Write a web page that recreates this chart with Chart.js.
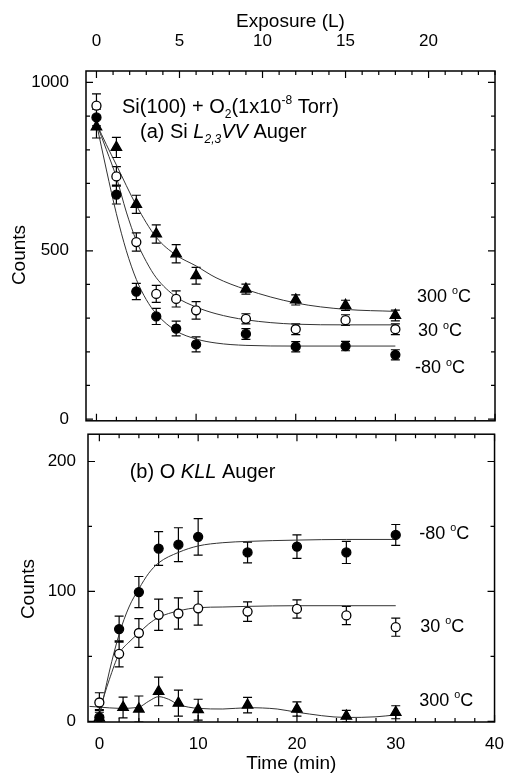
<!DOCTYPE html>
<html>
<head>
<meta charset="utf-8">
<script src="https://cdn.jsdelivr.net/npm/chart.js@4.4.0/dist/chart.umd.min.js"></script>
<style>
    body { margin: 0; background: #fff; }
    #wrap { position: relative; width: 508px; height: 775px; }
    canvas { position: absolute; left: 0; }
</style>
</head>
<body>
<div id="wrap">
    <canvas id="topChart" width="508" height="440" style="top:0"></canvas>
    <canvas id="bottomChart" width="508" height="355" style="top:420px"></canvas>
</div>
<script>
// (a) Si L2,3VV Auger - counts vs time (min)
const timeA = [0, 2, 4, 6, 8, 10, 15, 20, 25, 30];
const siM80 = [896, 667, 379, 305, 269, 222, 253, 215, 217, 191];
const siM80Err = [25, 28, 24, 24, 22, 22, 16, 15, 14, 15];
const si30 = [931, 721, 526, 372, 357, 323, 298, 267, 294, 267];
const si30Err = [35, 29, 27, 25, 24, 26, 15, 16, 16, 16];
const si300 = [868, 807, 638, 550, 491, 426, 386, 354, 338, 308];
const si300Err = [33, 30, 27, 27, 27, 25, 15, 15, 15, 16];

// fitted curves
const fitSiM80T = [0, 1, 2, 3, 4, 5, 6, 8, 10, 12, 15, 20, 25, 30];
const fitSiM80 = [878, 740, 610, 500, 415, 355, 313, 262, 238, 226, 219, 217, 217, 217];
const fitSi30T = [0, 1, 2, 3, 4, 5, 6, 8, 10, 12, 15, 20, 25, 30];
const fitSi30 = [878, 800, 718, 615, 530, 468, 420, 363, 333, 313, 295, 282, 280, 280];
const fitSi300T = [0, 1, 2, 4, 6, 8, 10, 12, 15, 20, 25, 30];
const fitSi300 = [878, 815, 755, 635, 540, 487, 455, 420, 385, 345, 326, 320];

// (b) O KLL Auger
const timeB = [0, 2, 4, 6, 8, 10, 15, 20, 25, 30];
const oM80 = [3, 71, 99.5, 133, 136, 142, 130, 134.5, 130, 143.5];
const oM80Err = [6, 10, 12, 13, 13, 14, 8, 9, 8.5, 8];
const o30 = [14.5, 52, 68, 82, 83, 87, 84.5, 86.5, 81.5, 72.5];
const o30Err = [7.5, 10, 11, 12, 12, 13, 7.5, 7, 7, 7];
const timeB300 = [0, 2.4, 4, 6, 8, 10, 15, 20, 25, 30];
const o300 = [2.5, 10.7, 9.5, 23, 14, 9, 12.5, 9.5, 4, 7];
const o300Err = [6, 8, 10, 11, 10, 8, 6, 5.5, 4.5, 5];

const fitOM80T = [0, 1, 2, 3, 4, 5, 6, 8, 10, 12.5, 15, 20, 25, 30];
const fitOM80 = [3, 38, 67, 88, 102, 114, 122, 130, 135, 137.5, 138.5, 139.5, 140, 140];
const fitO30T = [0, 1, 2, 3, 4, 5, 6, 8, 10, 12.5, 15, 20, 25, 30];
const fitO30 = [8, 32, 52, 61, 68, 75, 80, 85, 87.5, 88, 88.5, 89, 89, 89];
const fitO300T = [-1, 0, 2, 4, 5, 6, 7, 8, 10, 12.5, 15, 18, 20, 25, 28, 30];
const fitO300 = [11.5, 11, 10, 11, 15.5, 19, 17, 13, 10, 9.5, 10.5, 9.5, 7, 3, 3.5, 5];

// tick labels
const countTicksA = [0, 500, 1000];
const countTicksB = [0, 100, 200];
const timeTicks = [0, 10, 20, 30, 40];
const exposureTicks = [0, 5, 10, 15, 20];
const lPerMin = 0.6; // 1x10^-8 Torr for 60 s = 0.6 L

const FONT = '"Liberation Sans", Arial, Helvetica, sans-serif';
const tickFont = { family: FONT, size: 17 };
const titleFont = { family: FONT, size: 19 };

const pts = (xs, ys) => xs.map((x, i) => ({ x: x, y: ys[i] }));
const deg = t => [[t + ' ', ''], ['o', 'sup'], ['C', '']];

function pointSet(xs, ys, errs, style, fillColor, radius) {
    return {
        data: pts(xs, ys),
        errors: errs,
        pointStyle: style,
        pointRadius: radius,
        pointBackgroundColor: fillColor,
        pointBorderColor: '#000',
        pointBorderWidth: 1.3,
        showLine: false
    };
}

function fitSet(xs, ys) {
    return {
        data: pts(xs, ys),
        showLine: true,
        pointRadius: 0,
        borderColor: '#333',
        borderWidth: 1,
        cubicInterpolationMode: 'monotone',
        fill: false
    };
}

// draw text runs with italic / sub / superscript parts
function drawRich(ctx, x, y, parts, size) {
    let cx = x;
    const base = y + size * 0.36;
    parts.forEach(([txt, kind]) => {
        const small = kind === 'sub' || kind === 'sup' || kind === 'isub';
        const italic = kind === 'i' || kind === 'isub';
        ctx.font = (italic ? 'italic ' : '') + (small ? size * 0.6 : size) + 'px ' + FONT;
        let dy = 0;
        if (kind === 'sub' || kind === 'isub') dy = size * 0.25;
        if (kind === 'sup') dy = -size * 0.42;
        ctx.fillText(txt, cx, base + dy);
        cx += ctx.measureText(txt).width;
    });
}

const frame = {
    id: 'frame',
    afterDraw(chart) {
        const { ctx, chartArea: a } = chart;
        ctx.save();
        ctx.strokeStyle = '#000';
        ctx.lineWidth = 1.5;
        ctx.strokeRect(a.left, a.top, a.right - a.left, a.bottom - a.top);
        ctx.restore();
    }
};

const inTicks = {
    id: 'inTicks',
    afterDraw(chart, args, opts) {
        const { ctx, chartArea: a } = chart;
        ctx.save();
        ctx.strokeStyle = '#000';
        ctx.lineWidth = 1.2;
        ctx.beginPath();
        opts.list.forEach(t => {
            const s = chart.scales[t.scale];
            for (let v = t.from; v <= t.to + 1e-9; v += t.step) {
                const p = s.getPixelForValue(v);
                const r = v / t.major;
                const len = Math.abs(r - Math.round(r)) < 1e-6 ? 7 : 4;
                if (t.side === 'top' || t.side === 'bottom') {
                    if (p < a.left - 0.5 || p > a.right + 0.5) continue;
                    const y0 = t.side === 'top' ? a.top : a.bottom;
                    ctx.moveTo(p, y0);
                    ctx.lineTo(p, t.side === 'top' ? y0 + len : y0 - len);
                } else {
                    if (p < a.top - 0.5 || p > a.bottom + 0.5) continue;
                    const x0 = t.side === 'left' ? a.left : a.right;
                    ctx.moveTo(x0, p);
                    ctx.lineTo(t.side === 'left' ? x0 + len : x0 - len, p);
                }
            }
        });
        ctx.stroke();
        ctx.restore();
    }
};

const errorBars = {
    id: 'errorBars',
    beforeDatasetsDraw(chart) {
        const { ctx, chartArea: a, scales } = chart;
        ctx.save();
        ctx.beginPath();
        ctx.rect(a.left, a.top, a.right - a.left, a.bottom - a.top);
        ctx.clip();
        ctx.strokeStyle = '#000';
        ctx.lineWidth = 1.2;
        ctx.beginPath();
        chart.data.datasets.forEach(ds => {
            if (!ds.errors) return;
            ds.data.forEach((pt, j) => {
                const px = scales.x.getPixelForValue(pt.x);
                const hi = scales.y.getPixelForValue(pt.y + ds.errors[j]);
                const lo = scales.y.getPixelForValue(pt.y - ds.errors[j]);
                ctx.moveTo(px, hi); ctx.lineTo(px, lo);
                ctx.moveTo(px - 4.5, hi); ctx.lineTo(px + 4.5, hi);
                ctx.moveTo(px - 4.5, lo); ctx.lineTo(px + 4.5, lo);
            });
        });
        ctx.stroke();
        ctx.restore();
    }
};

const notes = {
    id: 'notes',
    afterDraw(chart, args, opts) {
        const { ctx, scales } = chart;
        ctx.save();
        ctx.fillStyle = '#000';
        ctx.textAlign = 'left';
        ctx.textBaseline = 'alphabetic';
        opts.items.forEach(n => {
            drawRich(ctx, scales.x.getPixelForValue(n.x), scales.y.getPixelForValue(n.y), n.parts, n.size);
        });
        // vertical axis title
        ctx.translate(opts.yTitle.x, opts.yTitle.y);
        ctx.rotate(-Math.PI / 2);
        ctx.textAlign = 'center';
        ctx.textBaseline = 'middle';
        ctx.font = titleFont.size + 'px ' + FONT;
        ctx.fillText('Counts', 0, 0);
        ctx.restore();
    }
};

function tickOpts(list, padding) {
    return {
        padding: padding,
        font: tickFont,
        color: '#000',
        maxRotation: 0,
        autoSkip: false,
        callback: v => String(v)
    };
}

const setTicks = list => s => { s.ticks = list.map(v => ({ value: v })); };

// top panel: Si L2,3VV
new Chart(document.getElementById('topChart'), {
    type: 'scatter',
    data: {
        datasets: [
            pointSet(timeA, siM80, siM80Err, 'circle', '#000', 4.5),
            pointSet(timeA, si30, si30Err, 'circle', '#fff', 4.5),
            pointSet(timeA, si300, si300Err, 'triangle', '#000', 6),
            fitSet(fitSiM80T, fitSiM80),
            fitSet(fitSi30T, fitSi30),
            fitSet(fitSi300T, fitSi300)
        ]
    },
    options: {
        responsive: false,
        animation: false,
        events: [],
        layout: { padding: { left: 0, right: 13, top: 0, bottom: 15 } },
        scales: {
            x: { type: 'linear', display: false, min: -1.05, max: 40 },
            x2: {
                type: 'linear', position: 'top',
                min: -1.05 * lPerMin, max: 40 * lPerMin,
                grid: { display: false }, border: { display: false },
                ticks: tickOpts(exposureTicks, 11),
                afterBuildTicks: setTicks(exposureTicks),
                afterFit: s => { s.height = 71; },
                title: { display: true, text: 'Exposure (L)', font: titleFont, color: '#000', padding: { top: 10, bottom: 0 } }
            },
            y: {
                type: 'linear', min: -5, max: 1034,
                grid: { display: false }, border: { display: false },
                ticks: tickOpts(countTicksA, 9),
                afterBuildTicks: setTicks(countTicksA),
                afterFit: s => { s.width = 86; }
            }
        },
        plugins: {
            legend: { display: false },
            tooltip: { enabled: false },
            inTicks: {
                list: [
                    { scale: 'x2', side: 'top', from: 0, to: 24, step: 1, major: 5 },
                    { scale: 'x', side: 'bottom', from: 0, to: 40, step: 2, major: 10 },
                    { scale: 'y', side: 'left', from: 0, to: 1000, step: 100, major: 500 },
                    { scale: 'y', side: 'right', from: 0, to: 1000, step: 100, major: 500 }
                ]
            },
            notes: {
                items: [
                    { x: 2.56, y: 931, size: 20, parts: [['Si(100) + O', ''], ['2', 'sub'], ['(1x10', ''], ['-8', 'sup'], [' Torr)', '']] },
                    { x: 4.37, y: 855, size: 20, parts: [['(a) Si ', ''], ['L', 'i'], ['2,3', 'isub'], ['VV', 'i'], [' Auger', '']] },
                    { x: 32.17, y: 368, size: 18, parts: deg('300') },
                    { x: 32.27, y: 265, size: 18, parts: deg('30') },
                    { x: 31.97, y: 156, size: 18, parts: deg('-80') }
                ],
                yTitle: { x: 19.5, y: 255 }
            }
        }
    },
    plugins: [errorBars, frame, inTicks, notes]
});

// bottom panel: O KLL
new Chart(document.getElementById('bottomChart'), {
    type: 'scatter',
    data: {
        datasets: [
            pointSet(timeB, oM80, oM80Err, 'circle', '#000', 4.5),
            pointSet(timeB, o30, o30Err, 'circle', '#fff', 4.5),
            pointSet(timeB300, o300, o300Err, 'triangle', '#000', 6),
            fitSet(fitOM80T, fitOM80),
            fitSet(fitO30T, fitO30),
            fitSet(fitO300T, fitO300)
        ]
    },
    options: {
        responsive: false,
        animation: false,
        events: [],
        layout: { padding: { left: 0, right: 10, top: 8, bottom: 0 } },
        scales: {
            x: {
                type: 'linear', min: -1.15, max: 40,
                grid: { display: false }, border: { display: false },
                ticks: tickOpts(timeTicks, 4),
                afterBuildTicks: setTicks(timeTicks),
                afterFit: s => { s.height = 53; },
                title: { display: true, text: 'Time (min)', font: titleFont, color: '#000', padding: { top: 0, bottom: 0 } }
            },
            y: {
                type: 'linear', min: -0.5, max: 221,
                grid: { display: false }, border: { display: false },
                ticks: tickOpts(countTicksB, 4),
                afterBuildTicks: setTicks(countTicksB),
                afterFit: s => { s.width = 88; }
            }
        },
        plugins: {
            legend: { display: false },
            tooltip: { enabled: false },
            inTicks: {
                list: [
                    { scale: 'x', side: 'top', from: 0, to: 40, step: 2, major: 10 },
                    { scale: 'x', side: 'bottom', from: 0, to: 40, step: 2, major: 10 },
                    { scale: 'y', side: 'left', from: 0, to: 200, step: 50, major: 100 },
                    { scale: 'y', side: 'right', from: 0, to: 200, step: 50, major: 100 }
                ]
            },
            notes: {
                items: [
                    { x: 3.07, y: 193, size: 20, parts: [['(b) O ', ''], ['KLL', 'i'], [' Auger', '']] },
                    { x: 32.37, y: 145.7, size: 18, parts: deg('-80') },
                    { x: 32.47, y: 74, size: 18, parts: deg('30') },
                    { x: 32.37, y: 16.8, size: 18, parts: deg('300') }
                ],
                yTitle: { x: 28.5, y: 169 }
            }
        }
    },
    plugins: [errorBars, frame, inTicks, notes]
});
</script>
</body>
</html>
